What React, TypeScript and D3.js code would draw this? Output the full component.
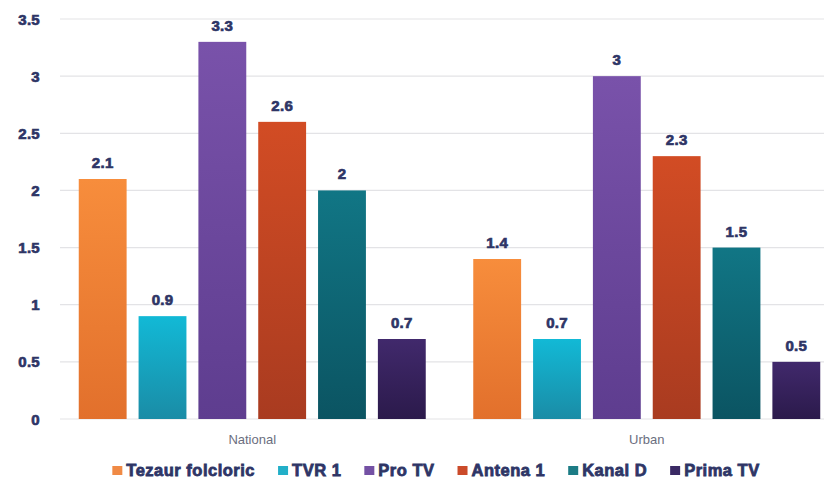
import React, { useEffect, useRef } from "react";
import * as d3 from "d3";

const groups = ["National", "Urban"];
const series = ["Tezaur folcloric", "TVR 1", "Pro TV", "Antena 1", "Kanal D", "Prima TV"];
const nationalValues = [2.1, 0.9, 3.3, 2.6, 2.0, 0.7];
const urbanValues = [1.4, 0.7, 3.0, 2.3, 1.5, 0.5];
const yTicks = [0, 0.5, 1, 1.5, 2, 2.5, 3, 3.5];
const colorsTop = ["#F78D3C", "#12B9D6", "#7952AA", "#D24C24", "#117685", "#41296C"];
const colorsBottom = ["#E2702C", "#1A8CA6", "#5E3D8F", "#A93B20", "#0B5462", "#2B1A4B"];
const legendColors = ["#F08A45", "#22AFC8", "#7451A4", "#CB4B2A", "#1C7C85", "#3A2A64"];

const W = 824;
const H = 481;

export default function App() {
  const ref = useRef<SVGSVGElement>(null);

  useEffect(() => {
    const svg = d3.select(ref.current);
    svg.selectAll("*").remove();

    const values: Record<string, number[]> = { National: nationalValues, Urban: urbanValues };

    const y = d3.scaleLinear().domain([0, 3.5]).range([419, 19]);
    const x0 = d3.scaleBand<string>().domain(groups).range([55, 844]);
    const bw = x0.bandwidth();
    const x1 = d3
      .scaleBand<string>()
      .domain(series)
      .range([23.75, bw - 23.75])
      .paddingInner(0.2);

    const defs = svg.append("defs");
    series.forEach((s, i) => {
      const g = defs
        .append("linearGradient")
        .attr("id", "grad" + i)
        .attr("x1", 0)
        .attr("y1", 0)
        .attr("x2", 0)
        .attr("y2", 1);
      g.append("stop").attr("offset", "0%").attr("stop-color", colorsTop[i]);
      g.append("stop").attr("offset", "100%").attr("stop-color", colorsBottom[i]);
    });

    const font = "Liberation Sans, Arial, sans-serif";
    const navy = "#2E3566";

    // grid
    svg
      .append("g")
      .selectAll("line")
      .data(yTicks)
      .join("line")
      .attr("x1", 60)
      .attr("x2", W)
      .attr("y1", (d) => y(d))
      .attr("y2", (d) => y(d))
      .attr("stroke", "#E3E3E6")
      .attr("stroke-width", 1.2);

    // y tick labels
    svg
      .append("g")
      .selectAll("text")
      .data(yTicks)
      .join("text")
      .attr("x", 40)
      .attr("y", (d) => y(d) + 5.5)
      .attr("text-anchor", "end")
      .attr("font-family", font)
      .attr("font-weight", "bold")
      .attr("font-size", 15)
      .attr("letter-spacing", 0.3)
      .attr("fill", navy)
      .attr("stroke", navy)
      .attr("stroke-width", 0.7)
      .text((d) => String(d));

    // bars
    groups.forEach((grp) => {
      const g = svg.append("g").attr("transform", `translate(${x0(grp)},0)`);
      const data = series.map((s, i) => ({ s, i, v: values[grp][i] }));
      g.selectAll("rect")
        .data(data)
        .join("rect")
        .attr("x", (d) => x1(d.s)!)
        .attr("width", x1.bandwidth())
        .attr("y", (d) => y(d.v))
        .attr("height", (d) => y(0) - y(d.v))
        .attr("fill", (d) => `url(#grad${d.i})`);
      g.selectAll("text")
        .data(data)
        .join("text")
        .attr("x", (d) => x1(d.s)! + x1.bandwidth() / 2)
        .attr("y", (d) => y(d.v) - 11)
        .attr("text-anchor", "middle")
        .attr("font-family", font)
        .attr("font-weight", "bold")
        .attr("font-size", 15)
        .attr("letter-spacing", 0.3)
        .attr("fill", navy)
        .attr("stroke", navy)
        .attr("stroke-width", 0.7)
        .text((d) => String(d.v));
      svg
        .append("text")
        .attr("x", x0(grp)! + bw / 2)
        .attr("y", 444)
        .attr("text-anchor", "middle")
        .attr("font-family", font)
        .attr("font-size", 13)
        .attr("fill", "#6B6E80")
        .text(grp);
    });

    // legend
    const leg = svg.append("g");
    const items = series.map((s, i) => {
      const it = leg.append("g");
      it.append("rect")
        .attr("x", 0)
        .attr("y", -9.5)
        .attr("width", 10)
        .attr("height", 9)
        .attr("fill", legendColors[i]);
      const t = it
        .append("text")
        .attr("x", 14)
        .attr("y", 0)
        .attr("font-family", font)
        .attr("font-weight", "bold")
        .attr("font-size", 16.5)
        .attr("letter-spacing", 0.5)
        .attr("fill", navy)
        .attr("stroke", navy)
        .attr("stroke-width", 0.8)
        .text(s);
      const w = 14 + (t.node() as SVGTextElement).getComputedTextLength();
      return { it, w };
    });
    const gap = 23;
    const total = d3.sum(items, (d) => d.w) + gap * (items.length - 1);
    let cx = 436 - total / 2;
    items.forEach(({ it, w }) => {
      it.attr("transform", `translate(${cx},475.5)`);
      cx += w + gap;
    });
  }, []);

  return (
    <svg
      ref={ref}
      width={W}
      height={H}
      style={{ position: "absolute", left: 0, top: 0, background: "#fff" }}
    />
  );
}
